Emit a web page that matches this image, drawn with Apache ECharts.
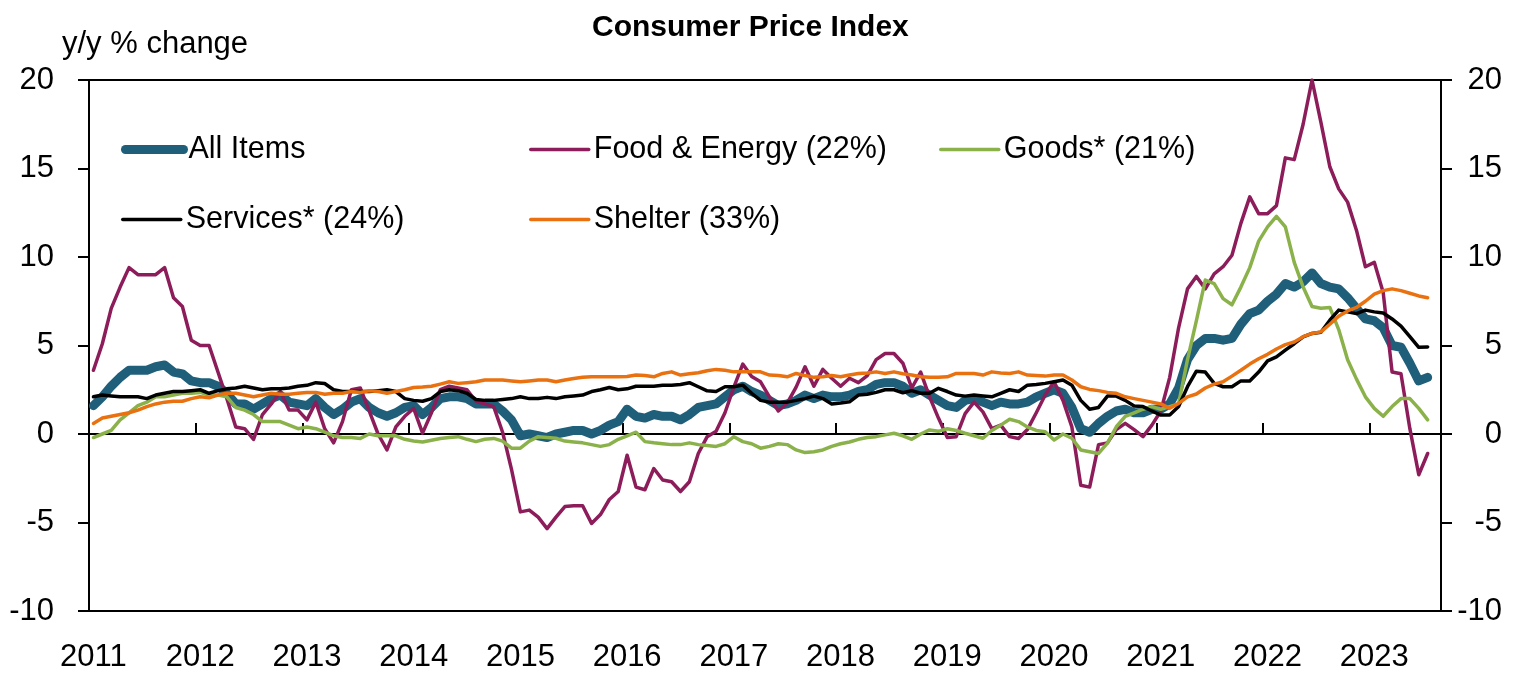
<!DOCTYPE html>
<html>
<head>
<meta charset="utf-8">
<title>Consumer Price Index</title>
<script src="https://cdn.jsdelivr.net/npm/echarts@6/dist/echarts.min.js"></script>
<style>
  html, body { margin: 0; padding: 0; background: #fff; }
  #chart { width: 1516px; height: 673px; }
</style>
</head>
<body>
<div id="chart"></div>
<script>
// monthly, Jan 2011 .. Aug 2023 (last month has no data)
const years = [2011, 2012, 2013, 2014, 2015, 2016, 2017, 2018, 2019, 2020, 2021, 2022, 2023]
const lastMonth = 8
const months = []
years.forEach(y => {
  for (let m = 1; m <= 12; m++) {
    if (y === 2023 && m > lastMonth) break
    months.push(y + '-' + String(m).padStart(2, '0'))
  }
})

const allItems = [
  1.6, 2.1, 2.7, 3.2, 3.6, 3.6, 3.6, 3.8, 3.9, 3.5, 3.4, 3.0,
  2.9, 2.9, 2.7, 2.3, 1.7, 1.7, 1.4, 1.7, 2.0, 2.2, 1.8, 1.7,
  1.6, 2.0, 1.5, 1.1, 1.4, 1.8, 2.0, 1.5, 1.2, 1.0, 1.2, 1.5,
  1.6, 1.1, 1.5, 2.0, 2.1, 2.1, 2.0, 1.7, 1.7, 1.7, 1.3, 0.8,
  -0.1, 0.0, -0.1, -0.2, 0.0, 0.1, 0.2, 0.2, 0.0, 0.2, 0.5, 0.7,
  1.4, 1.0, 0.9, 1.1, 1.0, 1.0, 0.8, 1.1, 1.5, 1.6, 1.7, 2.1,
  2.5, 2.7, 2.4, 2.2, 1.9, 1.6, 1.7, 1.9, 2.2, 2.0, 2.2, 2.1,
  2.1, 2.2, 2.4, 2.5, 2.8, 2.9, 2.9, 2.7, 2.3, 2.5, 2.2, 1.9,
  1.6, 1.5, 1.9, 2.0, 1.8, 1.6, 1.8, 1.7, 1.7, 1.8, 2.1, 2.3,
  2.5, 2.3, 1.5, 0.3, 0.1, 0.6, 1.0, 1.3, 1.4, 1.2, 1.2, 1.4,
  1.4, 1.7, 2.6, 4.2, 5.0, 5.4, 5.4, 5.3, 5.4, 6.2, 6.8, 7.0,
  7.5, 7.9, 8.5, 8.3, 8.6, 9.1, 8.5, 8.3, 8.2, 7.7, 7.1, 6.5,
  6.4, 6.0, 5.0, 4.9, 4.0, 3.0, 3.2, null
]
const foodEnergy = [
  3.6, 5.1, 7.1, 8.3, 9.4, 9.0, 9.0, 9.0, 9.4, 7.7, 7.2, 5.3,
  5.0, 5.0, 3.5, 2.0, 0.4, 0.3, -0.3, 1.1, 1.7, 2.4, 1.35, 1.35,
  0.8, 1.8, 0.3, -0.5, 0.7, 2.5, 2.6, 1.3, 0.0, -0.9, 0.4, 1.0,
  1.45, 0.05, 1.2, 2.5, 2.7, 2.6, 2.5, 1.85, 1.7, 1.55, 0.1, -2.0,
  -4.4, -4.3, -4.7, -5.35, -4.7, -4.1, -4.05, -4.05, -5.05, -4.55, -3.7, -3.25,
  -1.2, -3.0, -3.15, -1.95, -2.6, -2.7, -3.25, -2.7, -1.1, -0.15, 0.15, 1.2,
  2.65, 3.95, 3.25, 2.95, 2.1, 1.3, 1.75, 2.65, 3.8, 2.7, 3.65, 3.15,
  2.7, 3.15, 2.9, 3.3, 4.2, 4.55, 4.55, 4.0, 2.6, 3.5, 2.1, 0.9,
  -0.2, -0.15, 1.15, 1.8, 1.25, 0.3, 0.5, -0.15, -0.25, 0.25, 1.2, 2.2,
  2.95, 1.9, 0.4, -2.9, -3.0, -0.6, -0.5, 0.25, 0.6, 0.25, -0.15, 0.5,
  1.3, 3.2, 6.0, 8.2, 8.9, 8.2, 9.05, 9.45, 10.1, 11.9, 13.4, 12.45,
  12.45, 12.9, 15.6, 15.5, 17.5, 20.0, 17.6, 15.1, 13.85, 13.1, 11.5, 9.45,
  9.7, 8.0, 3.5, 3.4, 0.3, -2.3, -1.1, null
]
const goods = [
  -0.2, 0.0, 0.2, 0.8, 1.2, 1.6, 1.8, 2.1, 2.1, 2.2, 2.3, 2.3,
  2.35, 2.2, 2.2, 2.1, 1.5, 1.35, 1.1, 0.7, 0.7, 0.7, 0.5, 0.3,
  0.4, 0.3, 0.1, -0.1, -0.2, -0.2, -0.25, 0.0, -0.1, -0.1, -0.1, -0.3,
  -0.4, -0.45, -0.35, -0.25, -0.2, -0.15, -0.3, -0.43, -0.3, -0.25, -0.4, -0.8,
  -0.8, -0.4, -0.15, -0.2, -0.24, -0.4, -0.45, -0.5, -0.6, -0.7, -0.6, -0.3,
  -0.1, 0.1, -0.43, -0.5, -0.55, -0.6, -0.6, -0.5, -0.6, -0.65, -0.7, -0.55,
  -0.15, -0.43, -0.55, -0.8, -0.7, -0.55, -0.6, -0.9, -1.05, -1.0, -0.9, -0.7,
  -0.55, -0.45, -0.3, -0.2, -0.15, -0.05, 0.04, -0.1, -0.3, 0.0, 0.23, 0.15,
  0.3, 0.2, 0.04, -0.1, -0.24, 0.2, 0.5, 0.83, 0.7, 0.4, 0.2, 0.13,
  -0.34, 0.0, -0.24, -0.9, -1.0, -1.1, -0.52, 0.41, 1.0, 1.2, 1.4, 1.55,
  1.4, 1.55, 1.7, 4.2, 6.4, 8.7, 8.5, 7.65, 7.3, 8.3, 9.4, 10.9,
  11.7, 12.3, 11.7, 9.7, 8.3, 7.2, 7.1, 7.15, 5.9, 4.2, 3.1, 2.1,
  1.45, 1.0, 1.55, 2.0, 2.0, 1.45, 0.8, null
]
const services = [
  2.1, 2.2, 2.15, 2.1, 2.1, 2.1, 2.0, 2.2, 2.3, 2.4, 2.4, 2.45,
  2.5, 2.3, 2.45, 2.55, 2.6, 2.7, 2.6, 2.5, 2.55, 2.55, 2.6, 2.7,
  2.75, 2.9, 2.85, 2.5, 2.4, 2.4, 2.4, 2.4, 2.45, 2.5, 2.4, 2.0,
  1.9, 1.85, 2.0, 2.4, 2.5, 2.45, 2.3, 1.95, 1.9, 1.9, 1.95, 2.0,
  2.1, 2.0, 2.0, 2.07, 2.0, 2.1, 2.15, 2.2, 2.4, 2.5, 2.63, 2.5,
  2.55, 2.7, 2.7, 2.7, 2.75, 2.76, 2.8, 2.9, 2.67, 2.44, 2.4, 2.67,
  2.67, 2.76, 2.3, 1.9, 1.8, 1.8, 1.8, 1.9, 2.0, 2.14, 2.0, 1.7,
  1.75, 1.82, 2.2, 2.25, 2.35, 2.5, 2.5, 2.33, 2.45, 2.3, 2.3, 2.58,
  2.4, 2.2, 2.14, 2.2, 2.15, 2.1, 2.3, 2.5, 2.4, 2.76, 2.8, 2.86,
  2.95, 3.05, 2.76, 1.9, 1.4, 1.5, 2.14, 2.14, 1.9, 1.58, 1.55, 1.3,
  1.07, 1.07, 1.55, 2.67, 3.55, 3.5, 2.86, 2.67, 2.67, 3.0, 3.0, 3.5,
  4.13, 4.36, 4.74, 5.1, 5.49, 5.68, 5.75, 6.43, 7.0, 6.9, 6.8, 7.0,
  6.9, 6.84, 6.5, 6.1, 5.5, 4.9, 4.92, null
]
const shelter = [
  0.6, 0.9, 1.0, 1.1, 1.2, 1.35, 1.55, 1.7, 1.8, 1.85, 1.85, 2.0,
  2.1, 2.05, 2.2, 2.3, 2.3, 2.2, 2.1, 2.2, 2.3, 2.25, 2.25, 2.3,
  2.35, 2.35, 2.25, 2.3, 2.3, 2.4, 2.35, 2.44, 2.4, 2.3, 2.4, 2.5,
  2.63, 2.65, 2.7, 2.82, 2.95, 2.86, 2.9, 2.95, 3.05, 3.05, 3.05, 3.0,
  2.95, 3.0, 3.05, 3.05, 2.95, 3.05, 3.14, 3.2, 3.23, 3.23, 3.23, 3.23,
  3.25, 3.33, 3.3, 3.23, 3.42, 3.51, 3.33, 3.4, 3.46, 3.57, 3.65, 3.6,
  3.51, 3.51, 3.51, 3.51, 3.33, 3.3, 3.23, 3.42, 3.3, 3.2, 3.23, 3.3,
  3.23, 3.33, 3.42, 3.45, 3.51, 3.42, 3.51, 3.4, 3.33, 3.23, 3.2, 3.2,
  3.23, 3.42, 3.42, 3.42, 3.33, 3.51, 3.45, 3.42, 3.51, 3.33, 3.3, 3.27,
  3.33, 3.33, 3.05, 2.67, 2.52, 2.45, 2.35, 2.3, 2.1, 2.0, 1.9, 1.8,
  1.7, 1.45, 1.73, 2.1, 2.26, 2.6, 2.82, 2.95, 3.27, 3.6, 3.95, 4.25,
  4.5, 4.8, 5.05, 5.2, 5.5, 5.68, 5.77, 6.2, 6.65, 6.95, 7.15, 7.5,
  7.9, 8.1, 8.2, 8.1, 7.95, 7.8, 7.7, null
]

const yTicks = { min: -10, max: 20, interval: 5 }

const FONT = "'Liberation Sans', Arial, sans-serif"
const seriesDefs = [
  { name: 'All Items', data: allItems, color: '#1f5f7a', width: 9 },
  { name: 'Food & Energy (22%)', data: foodEnergy, color: '#8c1d5a', width: 3.5 },
  { name: 'Goods* (21%)', data: goods, color: '#8bb14b', width: 3.5 },
  { name: 'Services* (24%)', data: services, color: '#000000', width: 3.5 },
  { name: 'Shelter (33%)', data: shelter, color: '#e9710f', width: 3.5 }
]

// legend entries: [series index, left, top]
const legendPos = [[0, 121, 134], [1, 529, 134], [2, 939, 134], [3, 121, 204], [4, 529, 204]]

const myChart = echarts.init(document.getElementById('chart'))
const option = {
  animation: false,
  textStyle: { fontFamily: FONT },
  title: [
    {
      text: 'Consumer Price Index',
      left: 592,
      top: 13,
      padding: 0,
      textStyle: { fontFamily: FONT, fontSize: 30, lineHeight: 30, fontWeight: 'bold', color: '#000' }
    },
    {
      text: 'y/y % change',
      left: 62,
      top: 29,
      padding: 0,
      textStyle: { fontFamily: FONT, fontSize: 31, lineHeight: 31, fontWeight: 'normal', color: '#000' }
    }
  ],
  legend: legendPos.map(([i, left, top]) => ({
    show: true,
    orient: 'horizontal',
    left: left,
    top: top,
    padding: 0,
    itemWidth: 58,
    itemHeight: 14,
    selectedMode: false,
    textStyle: { fontFamily: FONT, fontSize: 30.5, color: '#000' },
    data: [{
      name: seriesDefs[i].name,
      lineStyle: { color: seriesDefs[i].color, width: seriesDefs[i].width },
      itemStyle: { color: 'rgba(0,0,0,0)', borderWidth: 0, opacity: 0 }
    }]
  })),
  grid: {
    left: 89,
    right: 75,
    top: 80,
    bottom: 61,
    show: true,
    borderColor: '#000',
    borderWidth: 2,
    backgroundColor: 'transparent'
  },
  xAxis: [
    {
      type: 'category',
      data: months,
      boundaryGap: true,
      axisLine: { show: false, onZero: false },
      axisTick: { show: false },
      splitLine: { show: false },
      axisLabel: {
        interval: 11,
        margin: 31,
        fontFamily: FONT,
        fontSize: 31,
        lineHeight: 31,
        color: '#000',
        formatter: v => v.slice(0, 4)
      }
    },
    {
      type: 'category',
      data: months,
      boundaryGap: true,
      axisLine: { show: true, onZero: true, onZeroAxisIndex: 0, lineStyle: { color: '#000', width: 2 } },
      axisTick: { show: true, interval: 11, length: 11, inside: false, lineStyle: { color: '#000', width: 2 } },
      axisLabel: { show: false },
      splitLine: { show: false }
    }
  ],
  yAxis: [
    {
      type: 'value',
      position: 'left',
      min: yTicks.min,
      max: yTicks.max,
      interval: yTicks.interval,
      axisLine: { show: false },
      axisTick: { show: true, length: 11, lineStyle: { color: '#000', width: 2 } },
      splitLine: { show: false },
      axisLabel: { margin: 35, fontFamily: FONT, fontSize: 31, color: '#000' }
    },
    {
      type: 'value',
      position: 'right',
      min: yTicks.min,
      max: yTicks.max,
      interval: yTicks.interval,
      axisLine: { show: false },
      axisTick: { show: true, length: 11, lineStyle: { color: '#000', width: 2 } },
      splitLine: { show: false },
      axisLabel: { margin: 61, align: 'right', fontFamily: FONT, fontSize: 31, color: '#000' }
    }
  ],
  series: seriesDefs.map(s => ({
    name: s.name,
    type: 'line',
    xAxisIndex: 0,
    yAxisIndex: 0,
    data: s.data,
    symbol: 'none',
    showSymbol: false,
    smooth: false,
    connectNulls: false,
    color: s.color,
    lineStyle: { color: s.color, width: s.width, cap: 'round', join: 'round' },
    emphasis: { disabled: true }
  }))
}
myChart.setOption(option)
</script>
</body>
</html>
